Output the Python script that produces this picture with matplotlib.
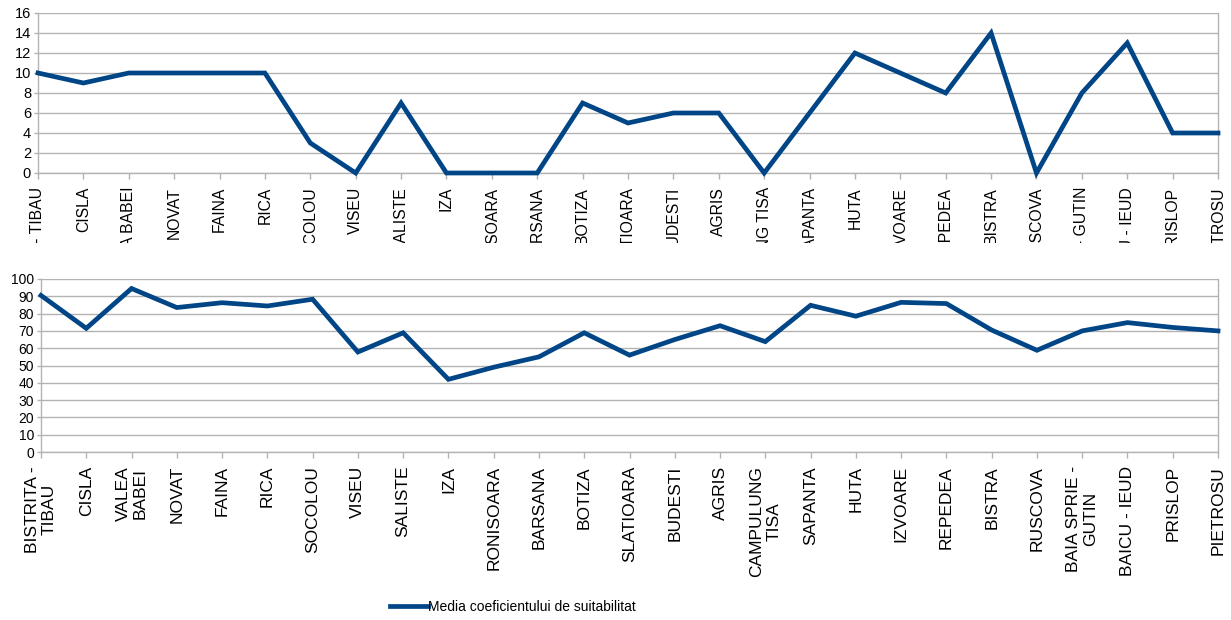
import matplotlib
matplotlib.use("Agg")
import matplotlib.pyplot as plt
from matplotlib.lines import Line2D
from matplotlib.transforms import Bbox, TransformedBbox

plt.rcParams['font.family'] = ['Liberation Sans', 'DejaVu Sans']

# localitati (etichete pe axa x)
locs = ["BISTRITA - TIBAU", "CISLA", "VALEA BABEI", "NOVAT", "FAINA", "RICA",
        "SOCOLOU", "VISEU", "SALISTE", "IZA", "RONISOARA", "BARSANA", "BOTIZA",
        "SLATIOARA", "BUDESTI", "AGRIS", "CAMPULUNG TISA", "SAPANTA", "HUTA",
        "IZVOARE", "REPEDEA", "BISTRA", "RUSCOVA", "BAIA SPRIE - GUTIN",
        "BAICU - IEUD", "PRISLOP", "PIETROSU"]
# etichete pe doua randuri pentru graficul de jos
locs_wrapped = ["BISTRITA -\nTIBAU", "CISLA", "VALEA\nBABEI", "NOVAT", "FAINA", "RICA",
                "SOCOLOU", "VISEU", "SALISTE", "IZA", "RONISOARA", "BARSANA", "BOTIZA",
                "SLATIOARA", "BUDESTI", "AGRIS", "CAMPULUNG\nTISA", "SAPANTA", "HUTA",
                "IZVOARE", "REPEDEA", "BISTRA", "RUSCOVA", "BAIA SPRIE -\nGUTIN",
                "BAICU - IEUD", "PRISLOP", "PIETROSU"]

valori_sus = [10, 9, 10, 10, 10, 10, 3, 0, 7, 0, 0, 0, 7, 5, 6, 6, 0, 6, 12,
              10, 8, 14, 0, 8, 13, 4, 4]
media_coef = [90.5, 71.5, 94.5, 83.5, 86.3, 84.4, 88.3, 57.8, 68.9, 42, 49, 55,
              68.9, 56, 65, 73, 63.8, 84.8, 78.5, 86.5, 85.8, 70.5, 58.8, 70,
              74.8, 72, 70]

BLUE = "#004586"
GRID = "#b3b3b3"
W, H = 1231, 620

fig = plt.figure(figsize=(W / 100, H / 100), dpi=100)
ax1 = fig.add_axes([38 / W, 1 - 173 / H, (1218 - 38) / W, 160 / H])
ax2 = fig.add_axes([41 / W, 1 - 452 / H, (1218 - 41) / W, 173 / H])

x = list(range(len(locs)))


def style(ax, ymax, step, xsize, ysize):
    ax.set_xlim(0, len(locs) - 1)
    ax.set_ylim(0, ymax)
    ax.set_yticks(range(0, ymax + 1, step))
    ax.yaxis.grid(True, color=GRID, linewidth=1.0)
    ax.set_axisbelow(True)
    ax.spines['top'].set_visible(False)
    for s in ('left', 'bottom', 'right'):
        ax.spines[s].set_color(GRID)
        ax.spines[s].set_linewidth(1.0)
    ax.tick_params(axis='x', direction='out', length=4, width=1, color=GRID,
                   pad=6, labelsize=xsize)
    ax.tick_params(axis='y', direction='out', length=3, width=1, color=GRID,
                   pad=2, labelsize=ysize)
    ax.set_xticks(x)


ax1.plot(x, valori_sus, color=BLUE, lw=3.4, clip_on=False, zorder=3,
         solid_joinstyle='miter')
style(ax1, 16, 2, 11.3, 10.5)
ax1.set_xticklabels(locs, rotation=90, ha='center', va='top')

# etichetele de sus sunt taiate sub axa
clip = TransformedBbox(Bbox([[0, 1 - 243 / H], [1, 1]]), fig.transFigure)
for lbl in ax1.get_xticklabels():
    lbl.set_clip_box(clip)
    lbl.set_clip_on(True)

ax2.plot(x, media_coef, color=BLUE, lw=3.4, clip_on=False, zorder=3,
         solid_joinstyle='miter')
style(ax2, 100, 10, 12.5, 10)
ax2.set_xticklabels(locs_wrapped, rotation=90, ha='center', va='top',
                    multialignment='center', linespacing=1.15)

handle = Line2D([], [], color=BLUE, lw=3.4)
fig.legend(handles=[handle], labels=["Media coeficientului de suitabilitat"],
           loc='center left', bbox_to_anchor=(390 / W, 1 - 607 / H),
           frameon=False, borderpad=0, borderaxespad=0, handlelength=2.7,
           handletextpad=0.05, fontsize=10)

fig.savefig("out.png", dpi=100)
